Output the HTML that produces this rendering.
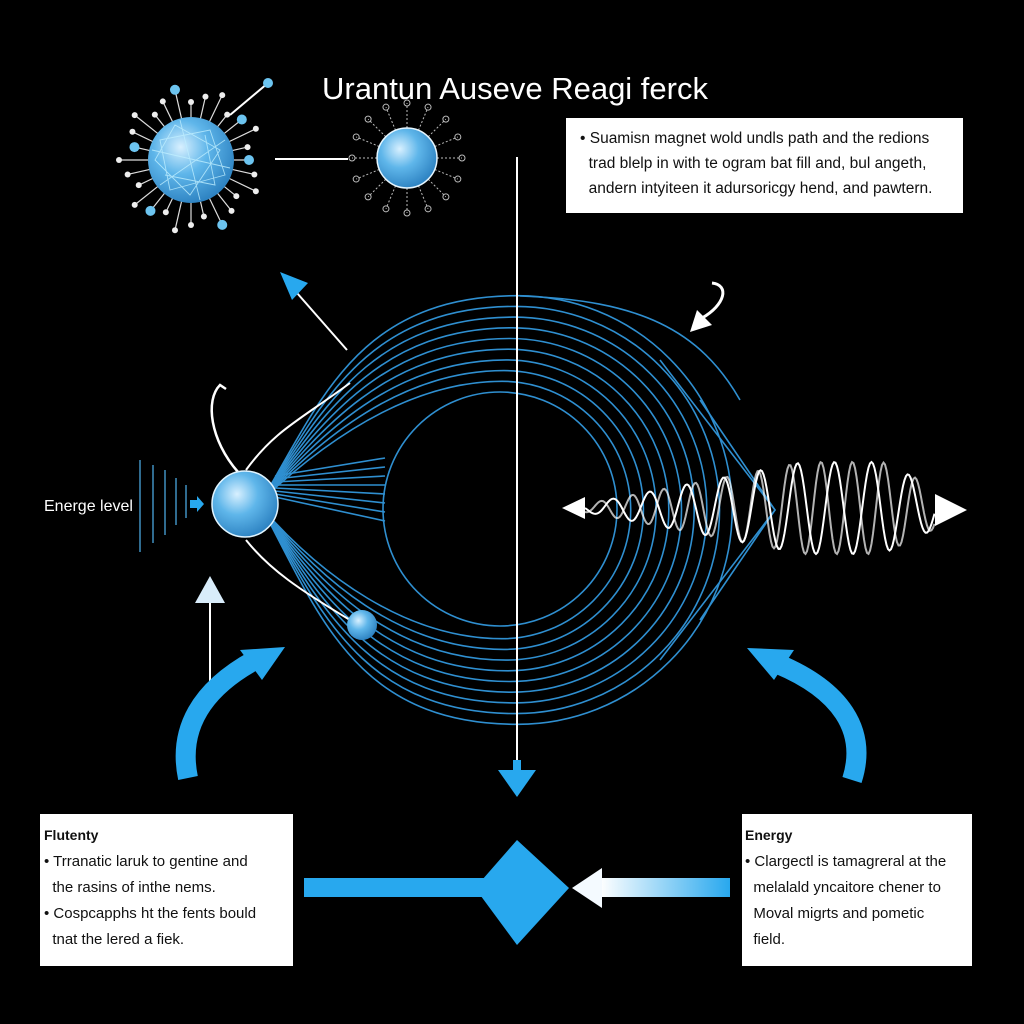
<!DOCTYPE html>
<html><head><meta charset="utf-8"><style>
html,body{margin:0;padding:0;background:#000;width:1024px;height:1024px;overflow:hidden}
svg{display:block}
.box{position:absolute;background:#fff;color:#111;font-family:"Liberation Sans",sans-serif}
</style></head><body>
<svg id="s" width="1024" height="1024" viewBox="0 0 1024 1024" xmlns="http://www.w3.org/2000/svg">
<defs>
<radialGradient id="sph" cx="0.38" cy="0.35" r="0.7">
<stop offset="0" stop-color="#d8f0ff"/><stop offset="0.45" stop-color="#5fb6ea"/><stop offset="1" stop-color="#2a7fbf"/></radialGradient>
<linearGradient id="ga" x1="0" x2="1"><stop offset="0" stop-color="#fff"/><stop offset="1" stop-color="#28a8ee"/></linearGradient>
</defs>
<rect width="1024" height="1024" fill="#000"/>
<text x="515" y="99" fill="#fff" font-family="Liberation Sans,sans-serif" font-size="31" text-anchor="middle">Urantun Auseve Reagi ferck</text>
<g id="rings" fill="none" stroke="#2f8fd0" stroke-width="1.6"></g>
<circle cx="500" cy="509" r="117" fill="none" stroke="#2f8fd0" stroke-width="1.6"/>
<g id="spk1" stroke="#ddd" stroke-width="1.2"></g>
<circle cx="191" cy="160" r="43" fill="url(#sph)"/>
<g stroke="#bfefff" stroke-width="0.9" fill="none" opacity="0.8">
<path d="M160 140 L210 130 L225 175 L170 190 Z M175 125 L220 150 L190 195 L155 160 Z M165 175 L215 185 L205 135 M152 150 L230 168 M180 120 L200 200 M160 185 L225 140"/></g>
<line x1="230" y1="115" x2="268" y2="83" stroke="#fff" stroke-width="2"/>
<circle cx="268" cy="83" r="5" fill="#6cc4f0"/>
<line x1="275" y1="159" x2="348" y2="159" stroke="#fff" stroke-width="2"/>
<g id="spk2" stroke="#bbb" stroke-width="1"></g>
<circle cx="407" cy="158" r="30" fill="url(#sph)" stroke="#e6f6ff" stroke-width="1.5"/>
<line x1="347" y1="350" x2="290" y2="285" stroke="#fff" stroke-width="2"/>
<polygon points="280,272 308,283 292,300" fill="#28a8ee"/>
<line x1="517" y1="157" x2="517" y2="770" stroke="#fff" stroke-width="2"/>
<polygon points="498,770 536,770 517,797" fill="#28a8ee"/>
<line x1="517" y1="760" x2="517" y2="785" stroke="#28a8ee" stroke-width="8"/>
<path d="M350 383 C300 420 275 430 246 470" fill="none" stroke="#fff" stroke-width="2"/>
<path d="M246 540 C270 570 300 590 350 620" fill="none" stroke="#fff" stroke-width="2"/>
<path d="M238 472 C210 440 205 400 220 385 L226 389" fill="none" stroke="#fff" stroke-width="2.5"/>
<circle cx="245" cy="504" r="33" fill="url(#sph)" stroke="#e0f4ff" stroke-width="1.5"/>
<circle cx="362" cy="625" r="15" fill="url(#sph)"/>
<g stroke="#4aa6de" stroke-width="1.3">
<line x1="140" y1="460" x2="140" y2="552"/><line x1="153" y1="465" x2="153" y2="543"/><line x1="165" y1="470" x2="165" y2="535"/><line x1="176" y1="478" x2="176" y2="525"/><line x1="186" y1="485" x2="186" y2="518"/></g>
<polygon points="190,500 197,500 197,496 204,504 197,512 197,508 190,508" fill="#28a8ee"/>
<text x="44" y="511" fill="#fff" font-family="Liberation Sans,sans-serif" font-size="16">Energe level</text>
<line x1="210" y1="600" x2="210" y2="692" stroke="#fff" stroke-width="2"/>
<polygon points="195,603 225,603 210,576" fill="#d8ecfa"/>
<path d="M712 283 C730 285 725 305 702 318" fill="none" stroke="#fff" stroke-width="3"/>
<polygon points="690,332 712,325 697,310" fill="#fff"/>
<g id="wave" fill="none" stroke="#fff" stroke-width="2"></g>
<polygon points="562,508 585,497 585,519" fill="#fff"/>
<polygon points="967,510 935,494 935,526" fill="#fff"/>
<path d="M188 778 C178 730 200 690 255 660" fill="none" stroke="#28a8ee" stroke-width="20"/>
<polygon points="285,647 240,650 262,680" fill="#28a8ee"/>
<path d="M852 780 C868 730 840 690 778 664" fill="none" stroke="#28a8ee" stroke-width="20"/>
<polygon points="747,648 794,650 774,680" fill="#28a8ee"/>
<rect x="304" y="878" width="195" height="19" fill="#28a8ee"/>
<polygon points="517,840 569,888 517,945 475,888" fill="#28a8ee"/>
<rect x="600" y="878" width="130" height="19" fill="url(#ga)"/>
<polygon points="572,888 602,868 602,908" fill="#f4faff"/>
</svg>
<div class="box" style="left:566px;top:118px;width:397px;height:95px;font-size:15.5px;line-height:25px;padding:8px 0 0 14px;box-sizing:border-box">• Suamisn magnet wold undls path and the redions<br>&nbsp;&nbsp;trad blelp in with te ogram bat fill and, bul angeth,<br>&nbsp;&nbsp;andern intyiteen it adursoricgy hend, and pawtern.</div>
<div class="box" style="left:40px;top:814px;width:253px;height:152px;font-size:15px;line-height:26px;padding:8px 0 0 4px;box-sizing:border-box"><b style="font-size:14px">Flutenty</b><br>• Trranatic laruk to gentine and<br>&nbsp;&nbsp;the rasins of inthe nems.<br>• Cospcapphs ht the fents bould<br>&nbsp;&nbsp;tnat the lered a fiek.</div>
<div class="box" style="left:742px;top:814px;width:230px;height:152px;font-size:15px;line-height:26px;padding:8px 0 0 3px;box-sizing:border-box"><b style="font-size:14px">Energy</b><br>• Clargectl is tamagreral at the<br>&nbsp;&nbsp;melalald yncaitore chener to<br>&nbsp;&nbsp;Moval migrts and pometic<br>&nbsp;&nbsp;field.</div>
<script>
var NS="http://www.w3.org/2000/svg";
function el(p,t,a){var e=document.createElementNS(NS,t);for(var k in a)e.setAttribute(k,a[k]);p.appendChild(e);return e;}
var r=document.getElementById("rings");
for(var i=1;i<10;i++){var R=118+i*10.7,cx=500+i*2,cy=510;
var d="M262 500 C320 "+(cy-R*0.5).toFixed(1)+" "+(cx-R*0.75).toFixed(1)+" "+(cy-R).toFixed(1)+" "+cx+" "+(cy-R).toFixed(1)+" A"+R+" "+R+" 0 0 1 "+cx+" "+(cy+R).toFixed(1)+" C"+(cx-R*0.75).toFixed(1)+" "+(cy+R).toFixed(1)+" 320 "+(cy+R*0.5).toFixed(1)+" 262 508";
el(r,"path",{d:d});}
el(r,"path",{d:"M520 296 C640 300 700 330 740 400"});
el(r,"path",{d:"M660 360 L775 510 L660 660"});
el(r,"path",{d:"M700 400 L775 510 L700 620"});
for(var j=0;j<8;j++){el(r,"line",{x1:275,y1:488+j*3-12,x2:385,y2:470+j*9-12});}
var s1=document.getElementById("spk1");
for(var a=0;a<28;a++){var t=a/28*Math.PI*2,L=58+(a%3)*7;
var x=191+Math.cos(t)*L,y=160+Math.sin(t)*L;el(s1,"line",{x1:191+Math.cos(t)*40,y1:160+Math.sin(t)*40,x2:x,y2:y});
el(s1,"circle",{cx:x,cy:y,r:a%5==0?5:3,fill:a%5==0?"#6cc4f0":"#eee",stroke:"none"});}
var s2=document.getElementById("spk2");
for(var b=0;b<16;b++){var t2=b/16*Math.PI*2,x2=407+Math.cos(t2)*55,y2=158+Math.sin(t2)*55;
el(s2,"line",{x1:407+Math.cos(t2)*30,y1:158+Math.sin(t2)*30,x2:x2,y2:y2,"stroke-dasharray":"2 2"});
el(s2,"circle",{cx:x2,cy:y2,r:3,fill:"none"});}
var w=document.getElementById("wave");
function wave(ph,f,op){var d="";for(var x=585;x<=935;x+=1.5){var k=(x-585)/350;var A=4+Math.min(1,k*1.6)*42*(k>0.85?(1-k)/0.15*0.6+0.4:1);
var y=508+A*Math.sin((x-585)*f+ph);d+=(d?"L":"M")+x.toFixed(1)+" "+y.toFixed(1);}
el(w,"path",{d:d,opacity:op});}
wave(0,0.17,1);wave(1.5,0.2,0.7);
</script>
</body></html>
